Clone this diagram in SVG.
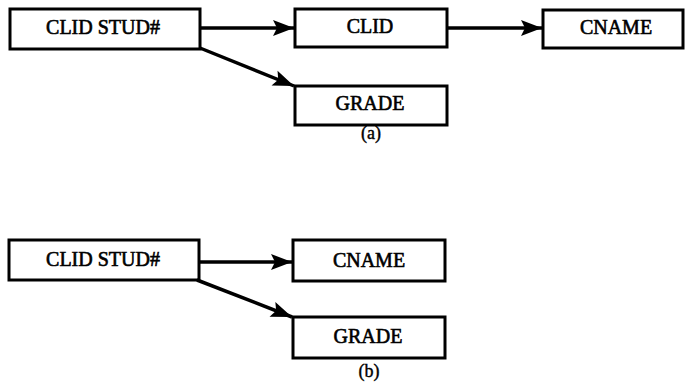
<svg xmlns="http://www.w3.org/2000/svg" width="685" height="387" viewBox="0 0 685 387">
  <style>
    .box { fill: #ffffff; stroke: #000000; stroke-width: 3; }
    .lbl { font-family: "Liberation Serif", "Times New Roman", serif; font-size: 20px; fill: #000000; stroke: #000000; stroke-width: 0.6; text-anchor: middle; }
    .cap { font-family: "Liberation Serif", "Times New Roman", serif; font-size: 18px; fill: #000000; stroke: #000000; stroke-width: 0.4; text-anchor: middle; }
    .edge { fill: none; stroke: #000000; stroke-width: 3.5; }
  </style>
  <defs>
    <!-- solid, slightly notched arrowhead -->
    <marker id="head" markerUnits="userSpaceOnUse" markerWidth="24" markerHeight="18" viewBox="-22 -9 24 18" refX="0" refY="0" orient="auto">
      <path d="M0,0 L-21,-8 L-17,0 L-21,8 Z" fill="#000000"/>
    </marker>
  </defs>
  <rect width="685" height="387" fill="#ffffff"/>

  <!-- (a) -->
  <g id="a-clid-stud">
    <rect class="box" x="10" y="9" width="190" height="40"/>
    <text class="lbl" x="103" y="34">CLID STUD#</text>
  </g>
  <g id="a-clid">
    <rect class="box" x="295" y="9" width="152" height="38"/>
    <text class="lbl" x="370" y="33">CLID</text>
  </g>
  <g id="a-cname">
    <rect class="box" x="543" y="10" width="140" height="38"/>
    <text class="lbl" x="616" y="34">CNAME</text>
  </g>
  <g id="a-grade">
    <rect class="box" x="295" y="86" width="152" height="39"/>
    <text class="lbl" x="370" y="110">GRADE</text>
  </g>
  <text class="cap" x="371" y="139">(a)</text>

  <!-- (b) -->
  <g id="b-clid-stud">
    <rect class="box" x="9" y="240" width="190" height="40"/>
    <text class="lbl" x="103" y="266">CLID STUD#</text>
  </g>
  <g id="b-cname">
    <rect class="box" x="293" y="240" width="152" height="41"/>
    <text class="lbl" x="369" y="267">CNAME</text>
  </g>
  <g id="b-grade">
    <rect class="box" x="293" y="317" width="152" height="41"/>
    <text class="lbl" x="368" y="343">GRADE</text>
  </g>
  <text class="cap" x="369" y="377">(b)</text>

  <g id="connectors">
    <line class="edge" x1="200" y1="28" x2="294" y2="28" marker-end="url(#head)"/>
    <line class="edge" x1="447" y1="28" x2="542" y2="28" marker-end="url(#head)"/>
    <line class="edge" x1="200" y1="48" x2="294" y2="86" marker-end="url(#head)"/>
    <line class="edge" x1="199" y1="262" x2="292" y2="262" marker-end="url(#head)"/>
    <line class="edge" x1="197" y1="280" x2="292" y2="317" marker-end="url(#head)"/>
  </g>
</svg>
